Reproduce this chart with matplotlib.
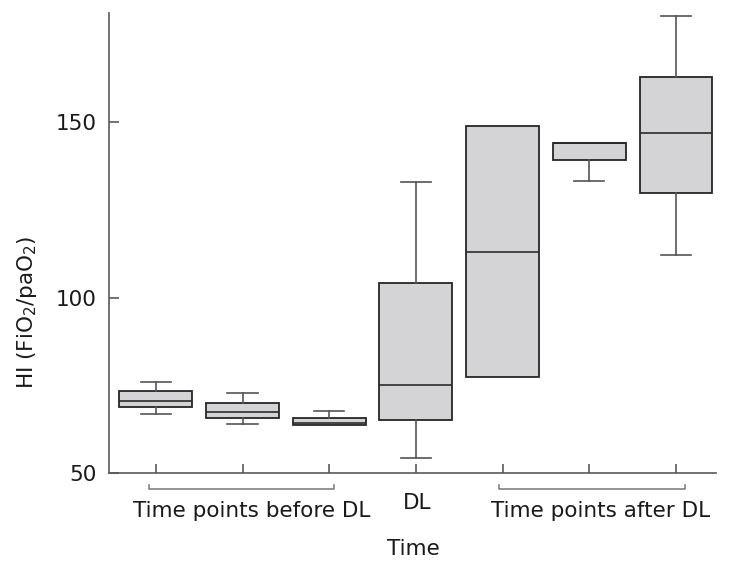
import matplotlib
matplotlib.use("Agg")
import matplotlib.pyplot as plt

# ---- data ----
positions = [1, 2, 3, 4, 5, 6, 7]
q1     = [68.8, 65.8, 63.7, 65.2, 77.5, 139.2, 129.9]
median = [70.6, 67.4, 64.2, 75.2, 113.1, 144.2, 147.0]
q3     = [73.4, 70.1, 65.7, 104.1, 149.0, 144.2, 162.9]
whislo = [66.8, 64.0, 63.7, 54.4, 77.5, 133.4, 112.1]
whishi = [76.1, 72.9, 67.8, 133.1, 149.0, 144.2, 180.4]
yticks = [50, 100, 150]
ylabel = "HI (FiO$_2$/paO$_2$)"
xlabel = "Time"
group_labels = ["Time points before DL", "DL", "Time points after DL"]

plt.rcParams['font.family'] = ['DejaVu Sans']
plt.rcParams['mathtext.fontset'] = 'dejavusans'

TXT = '#1a1a1a'
AX = '#5a5a5a'

fig = plt.figure(figsize=(7.3, 5.67), dpi=100)
ax = fig.add_axes([0.1493, 0.1653, 0.8315, 0.8125])

stats = []
for i in range(len(positions)):
    stats.append(dict(q1=q1[i], med=median[i], q3=q3[i],
                      whislo=whislo[i], whishi=whishi[i], fliers=[]))

res = ax.bxp(stats, positions=positions, widths=0.84, capwidths=0.35,
             patch_artist=True, showfliers=False,
             boxprops=dict(facecolor='#d4d4d6', edgecolor='#262626', linewidth=1.3),
             medianprops=dict(color='#2b2b2b', linewidth=1.2),
             whiskerprops=dict(color='#555555', linewidth=1.2),
             capprops=dict(color='#555555', linewidth=1.2))

# hide caps/whiskers where no whisker exists
for i in range(len(positions)):
    if whislo[i] >= q1[i]:
        res['caps'][2 * i].set_visible(False)
        res['whiskers'][2 * i].set_visible(False)
    if whishi[i] <= q3[i]:
        res['caps'][2 * i + 1].set_visible(False)
        res['whiskers'][2 * i + 1].set_visible(False)

ax.set_xlim(0.46, 7.461)
ax.set_ylim(50, 181.25)
ax.set_yticks(yticks)
ax.set_yticklabels([str(t) for t in yticks])
ax.set_xticks(positions)
ax.set_xticklabels([''] * len(positions))

for s in ['top', 'right']:
    ax.spines[s].set_visible(False)
for s in ['left', 'bottom']:
    ax.spines[s].set_color(AX)
    ax.spines[s].set_linewidth(1.2)

ax.tick_params(axis='y', direction='in', length=7, width=1.2, color=AX,
               labelsize=15.5, labelcolor=TXT, pad=8.6)
ax.tick_params(axis='x', direction='in', length=6.5, width=1.2, color=AX)

# brackets under the x axis
tr = ax.get_xaxis_transform()
yb, yt = -0.0347, -0.0254
for x0, x1 in [(0.923, 3.06), (4.96, 7.10)]:
    ax.plot([x0, x0, x1, x1], [yt, yb, yb, yt], color='#777777', lw=1.1,
            transform=tr, clip_on=False)

ax.text(2.104, -0.094, group_labels[0], transform=tr, ha='center', va='baseline',
        fontsize=15.5, color=TXT)
ax.text(4.018, -0.0768, group_labels[1], transform=tr, ha='center', va='baseline',
        fontsize=15.5, color=TXT)
ax.text(6.135, -0.094, group_labels[2], transform=tr, ha='center', va='baseline',
        fontsize=15.5, color=TXT)
ax.text(3.967, -0.1777, xlabel, transform=tr, ha='center', va='baseline',
        fontsize=15.5, color=TXT)

fig.text(27.5 / 730, 0.449, ylabel, rotation=90, ha='center', va='center',
         fontsize=15.5, color=TXT)

fig.savefig('out.png', dpi=100)
